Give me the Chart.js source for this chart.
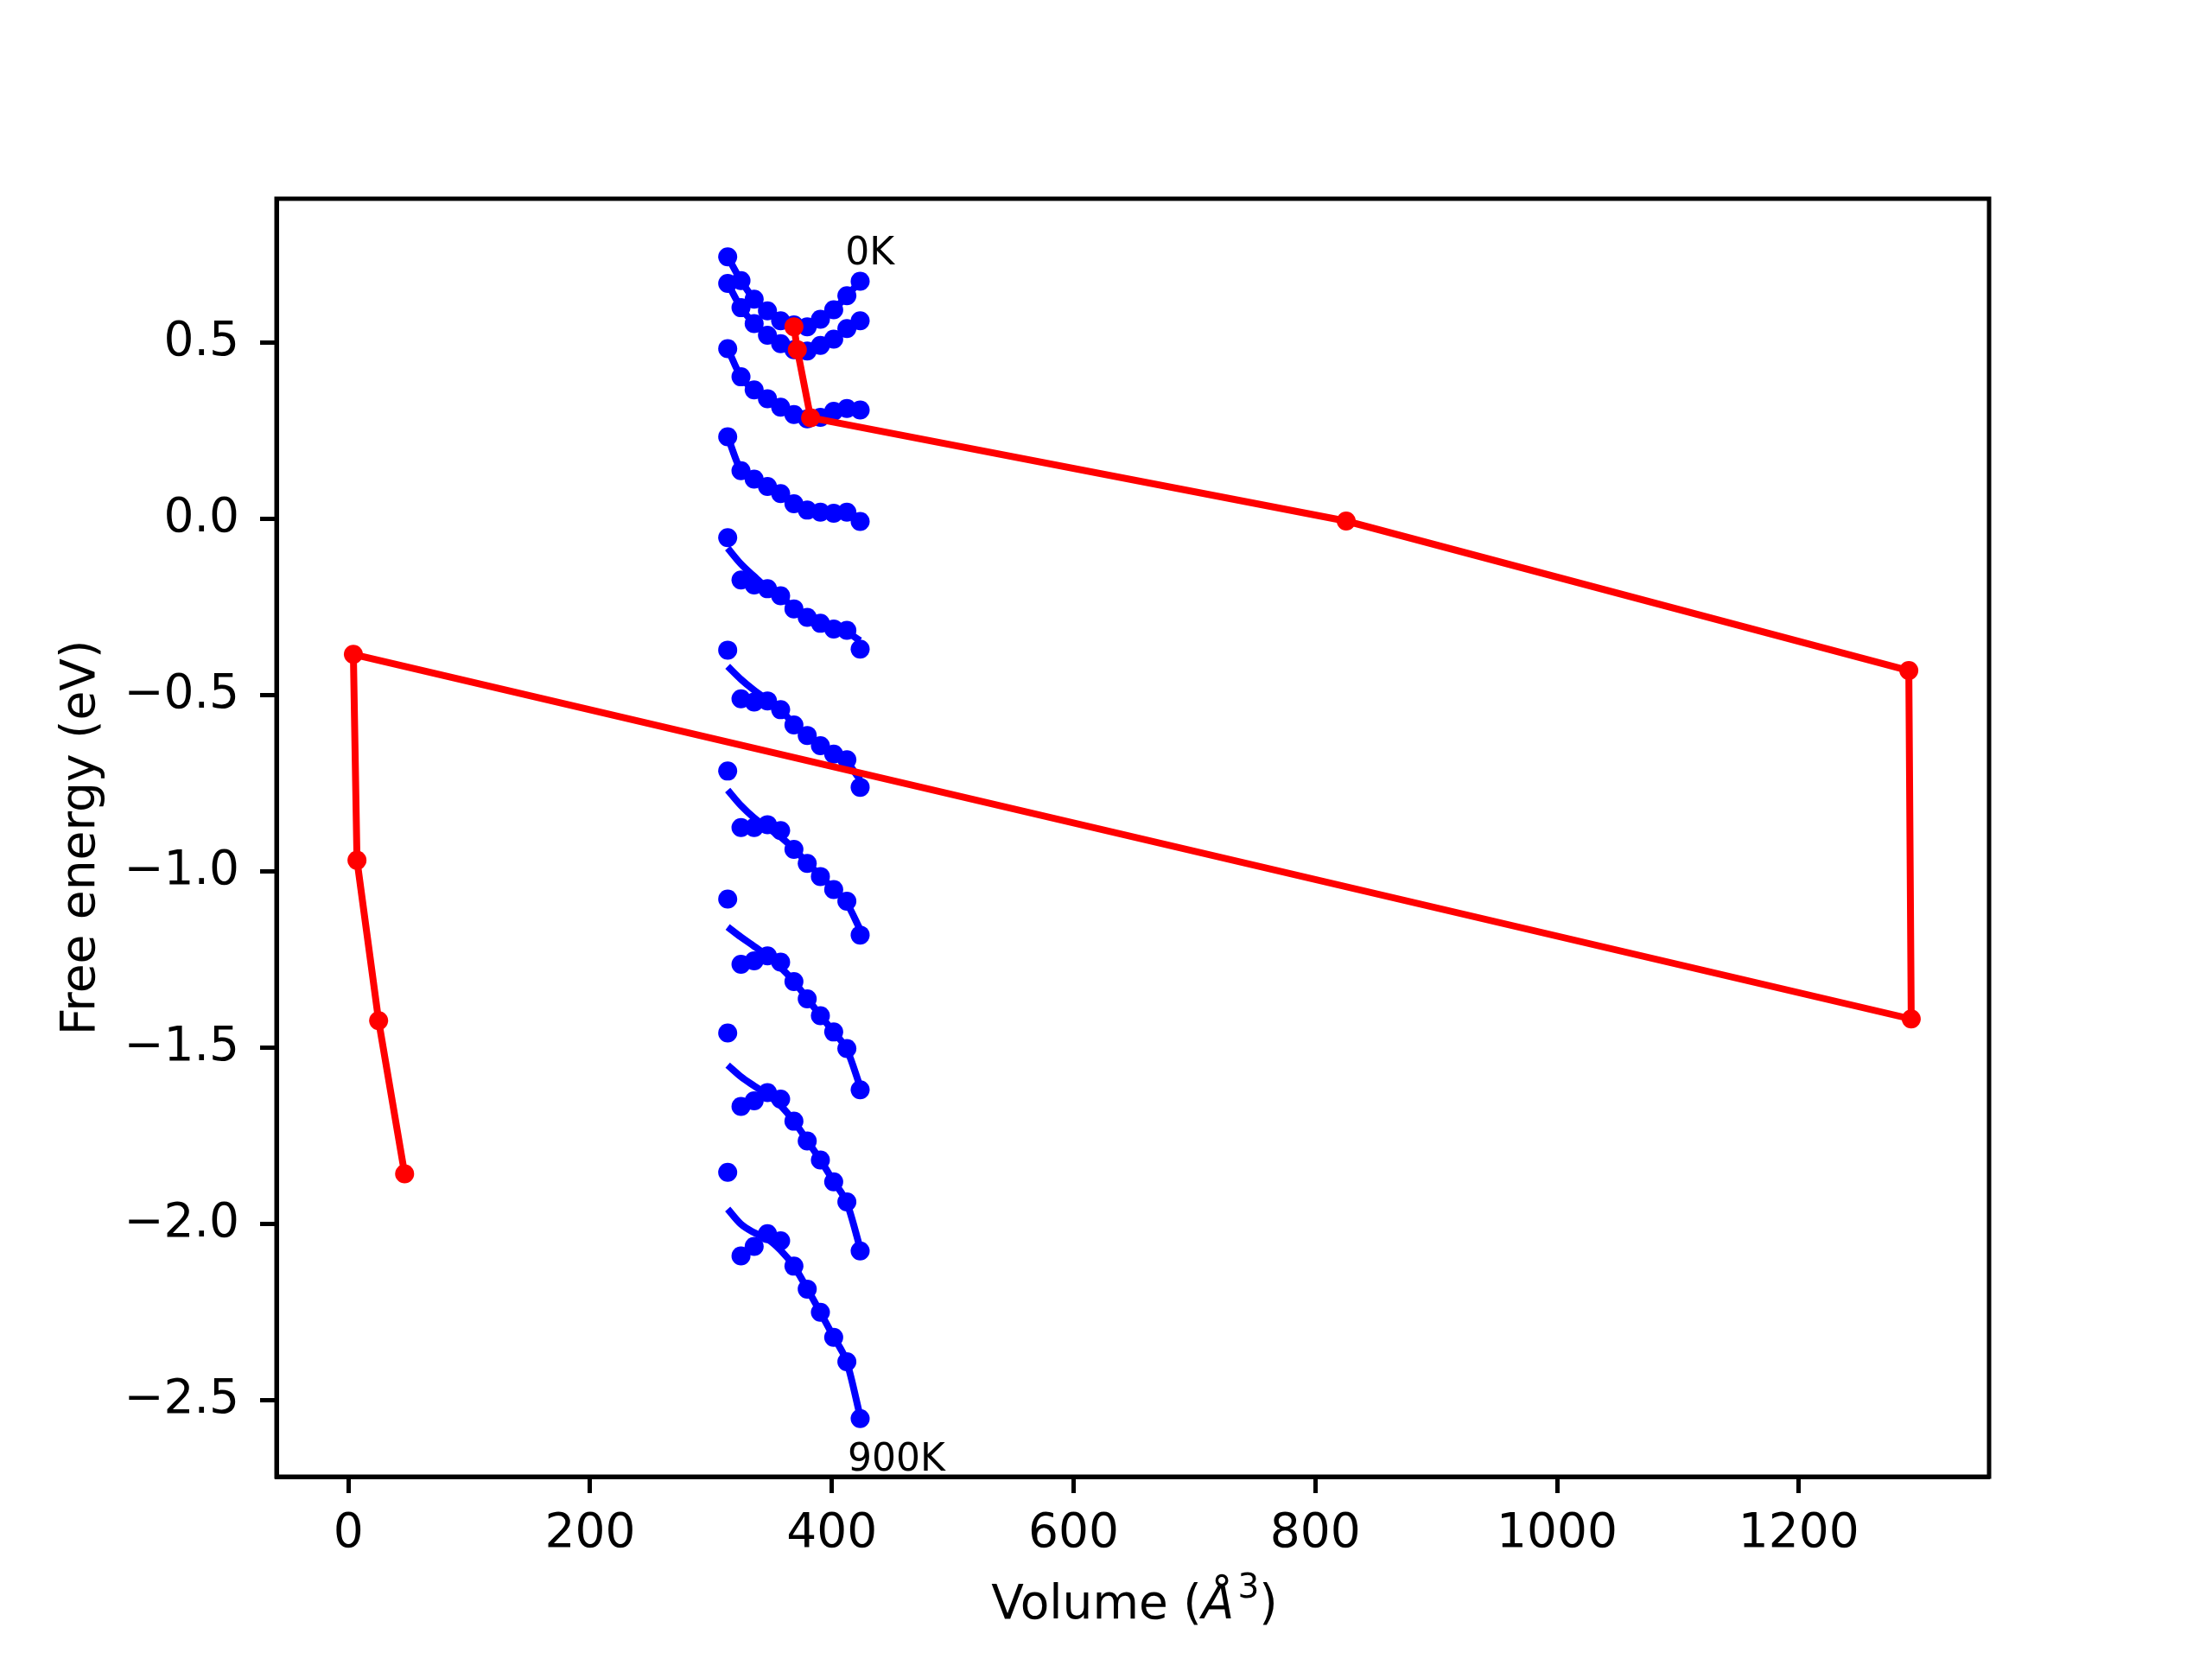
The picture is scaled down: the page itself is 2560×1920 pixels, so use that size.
<!DOCTYPE html>
<html>
<head>
<meta charset="utf-8">
<script src="https://cdn.jsdelivr.net/npm/chart.js@4"></script>
<style>
  body { margin: 0; background: #fff; }
  canvas { display: block; }
</style>
</head>
<body>
<canvas id="chart" width="2560" height="1920"></canvas>
<script>
// volumes used for every temperature (A^3)
const volumes = [313.8, 324.8, 335.7, 346.7, 357.6, 368.6, 379.6, 390.5, 401.5, 412.4, 423.4];

// computed free energies (eV), one list per temperature
const f0K   = [0.743, 0.676, 0.623, 0.590, 0.562, 0.550, 0.545, 0.566, 0.593, 0.633, 0.674];
const f100K = [0.668, 0.599, 0.554, 0.521, 0.497, 0.480, 0.476, 0.492, 0.510, 0.540, 0.562];
const f200K = [0.483, 0.403, 0.366, 0.341, 0.317, 0.296, 0.284, 0.288, 0.305, 0.313, 0.309];
const f300K = [0.233, 0.137, 0.113, 0.092, 0.072, 0.043, 0.025, 0.019, 0.016, 0.019, -0.007];
const f400K = [-0.053, -0.173, -0.187, -0.198, -0.218, -0.255, -0.279, -0.296, -0.312, -0.316, -0.369];
const f500K = [-0.372, -0.510, -0.519, -0.516, -0.541, -0.584, -0.614, -0.643, -0.667, -0.683, -0.761];
const f600K = [-0.715, -0.875, -0.875, -0.867, -0.884, -0.937, -0.977, -1.014, -1.051, -1.084, -1.180];
const f700K = [-1.078, -1.263, -1.253, -1.239, -1.257, -1.312, -1.361, -1.409, -1.455, -1.502, -1.619];
const f800K = [-1.458, -1.666, -1.650, -1.627, -1.645, -1.708, -1.764, -1.818, -1.880, -1.937, -2.076];
const f900K = [-1.853, -2.090, -2.063, -2.027, -2.047, -2.119, -2.184, -2.250, -2.321, -2.390, -2.551];

// fitted curves read at the same volumes
const fit0K   = [0.743, 0.676, 0.623, 0.590, 0.562, 0.550, 0.545, 0.566, 0.593, 0.633, 0.674];
const fit100K = [0.668, 0.599, 0.554, 0.521, 0.497, 0.480, 0.476, 0.492, 0.510, 0.540, 0.562];
const fit200K = [0.483, 0.403, 0.366, 0.341, 0.317, 0.296, 0.284, 0.288, 0.305, 0.313, 0.309];
const fit300K = [0.233, 0.137, 0.113, 0.092, 0.072, 0.043, 0.025, 0.019, 0.016, 0.019, -0.007];
const fit400K = [-0.083, -0.128, -0.163, -0.196, -0.220, -0.252, -0.278, -0.296, -0.310, -0.322, -0.345];
const fit500K = [-0.418, -0.455, -0.486, -0.513, -0.541, -0.582, -0.613, -0.642, -0.666, -0.690, -0.740];
const fit600K = [-0.769, -0.813, -0.848, -0.876, -0.902, -0.936, -0.975, -1.013, -1.050, -1.090, -1.165];
const fit700K = [-1.157, -1.186, -1.212, -1.240, -1.272, -1.312, -1.360, -1.408, -1.455, -1.505, -1.610];
const fit800K = [-1.549, -1.582, -1.608, -1.633, -1.664, -1.708, -1.763, -1.818, -1.879, -1.940, -2.068];
const fit900K = [-1.957, -2.000, -2.024, -2.042, -2.074, -2.119, -2.183, -2.250, -2.320, -2.392, -2.545];

// minimum of each fit (red path), 0K -> 900K
const minVolume = [368.6, 371.4, 382.4, 825.5, 1291.0, 1293.0, 4.1, 7.1, 25.0, 46.5];
const minEnergy = [0.545, 0.480, 0.287, -0.006, -0.430, -1.418, -0.384, -0.968, -1.423, -1.857];

// text labels
const noteText = ['0K', '900K'];
const noteV = [411, 413];
const noteF = [0.722, -2.698];

const xTicks = [0, 200, 400, 600, 800, 1000, 1200];
const yTicks = [0.5, 0.0, -0.5, -1.0, -1.5, -2.0, -2.5];

const energyLists = [f0K, f100K, f200K, f300K, f400K, f500K, f600K, f700K, f800K, f900K];
const fitLists = [fit0K, fit100K, fit200K, fit300K, fit400K, fit500K, fit600K, fit700K, fit800K, fit900K];

const toPoints = (xs, ys) => xs.map((x, i) => ({ x: x, y: ys[i] }));

const datasets = [];
// red path on top
datasets.push({
    data: toPoints(minVolume, minEnergy),
    showLine: true,
    borderColor: '#ff0000',
    backgroundColor: '#ff0000',
    borderWidth: 8,
    pointRadius: 11,
    pointBorderWidth: 0,
    tension: 0,
});
energyLists.forEach((ys, i) => {
    datasets.push({
        data: toPoints(volumes, ys),
        showLine: false,
        backgroundColor: '#0000ff',
        borderColor: '#0000ff',
        pointRadius: 11,
        pointBorderWidth: 0,
    });
    datasets.push({
        data: toPoints(volumes, fitLists[i]),
        showLine: true,
        borderColor: '#0000ff',
        borderWidth: 8,
        pointRadius: 0,
        cubicInterpolationMode: 'monotone',
    });
});

const font = 'DejaVu Sans';

// frame, text labels and the x title (with italic Å and superscript 3)
const extras = {
    id: 'extras',
    afterDraw(chart) {
        const ctx = chart.ctx;
        const xs = chart.scales.x, ys = chart.scales.y;
        const a = chart.chartArea;
        ctx.save();
        ctx.fillStyle = '#000';
        ctx.font = `44px "${font}"`;
        ctx.textAlign = 'left';
        ctx.textBaseline = 'alphabetic';
        noteText.forEach((t, i) => {
            ctx.fillText(t, xs.getPixelForValue(noteV[i]), ys.getPixelForValue(noteF[i]));
        });

        // x axis title
        const parts = [
            { t: 'Volume (', f: `55px "${font}"`, dy: 0 },
            { t: 'Å', f: `italic 55px "${font}"`, dy: 0 },
            { t: '3', f: `39px "${font}"`, dy: -24 },
            { t: ')', f: `55px "${font}"`, dy: 0 },
        ];
        let total = 0;
        parts.forEach(p => { ctx.font = p.f; p.w = ctx.measureText(p.t).width; total += p.w; });
        let x = (a.left + a.right) / 2 - total / 2;
        const base = 1873;
        parts.forEach(p => { ctx.font = p.f; ctx.fillText(p.t, x, base + p.dy); x += p.w + (p.t === 'Å' ? 4 : 0); });

        ctx.strokeStyle = '#000';
        ctx.lineWidth = 5;
        ctx.strokeRect(a.left, a.top, a.right - a.left, a.bottom - a.top);
        ctx.restore();
    }
};

new Chart(document.getElementById('chart'), {
    type: 'scatter',
    data: { datasets },
    plugins: [extras],
    options: {
        responsive: false,
        devicePixelRatio: 1,
        animation: false,
        layout: { padding: { left: 0, top: 230, right: 258, bottom: 0 } },
        plugins: { legend: { display: false }, tooltip: { enabled: false } },
        scales: {
            x: {
                type: 'linear',
                min: -59.5,
                max: 1357.4,
                afterFit: (s) => { s.height = 211; },
                afterBuildTicks: (s) => { s.ticks = xTicks.map(v => ({ value: v })); },
                grid: { drawOnChartArea: false, drawTicks: true, tickLength: 19, tickWidth: 5, tickColor: '#000' },
                border: { display: true, color: '#000', width: 5 },
                ticks: { color: '#000', font: { family: font, size: 55 }, padding: 15, maxRotation: 0,
                         callback: (v) => String(v) },
                title: { display: false },
            },
            y: {
                type: 'linear',
                min: -2.716,
                max: 0.908,
                afterFit: (s) => { s.width = 320; },
                afterBuildTicks: (s) => { s.ticks = yTicks.map(v => ({ value: v })); },
                grid: { drawOnChartArea: false, drawTicks: true, tickLength: 19, tickWidth: 5, tickColor: '#000' },
                border: { display: true, color: '#000', width: 5 },
                ticks: { color: '#000', font: { family: font, size: 55 }, padding: 24,
                         callback: (v) => v.toFixed(1).replace('-', '\u2212') },
                title: { display: true, text: 'Free energy (eV)', color: '#000',
                         font: { family: font, size: 55 }, padding: { top: 62, bottom: 0 } },
            }
        }
    }
});
</script>
</body>
</html>
